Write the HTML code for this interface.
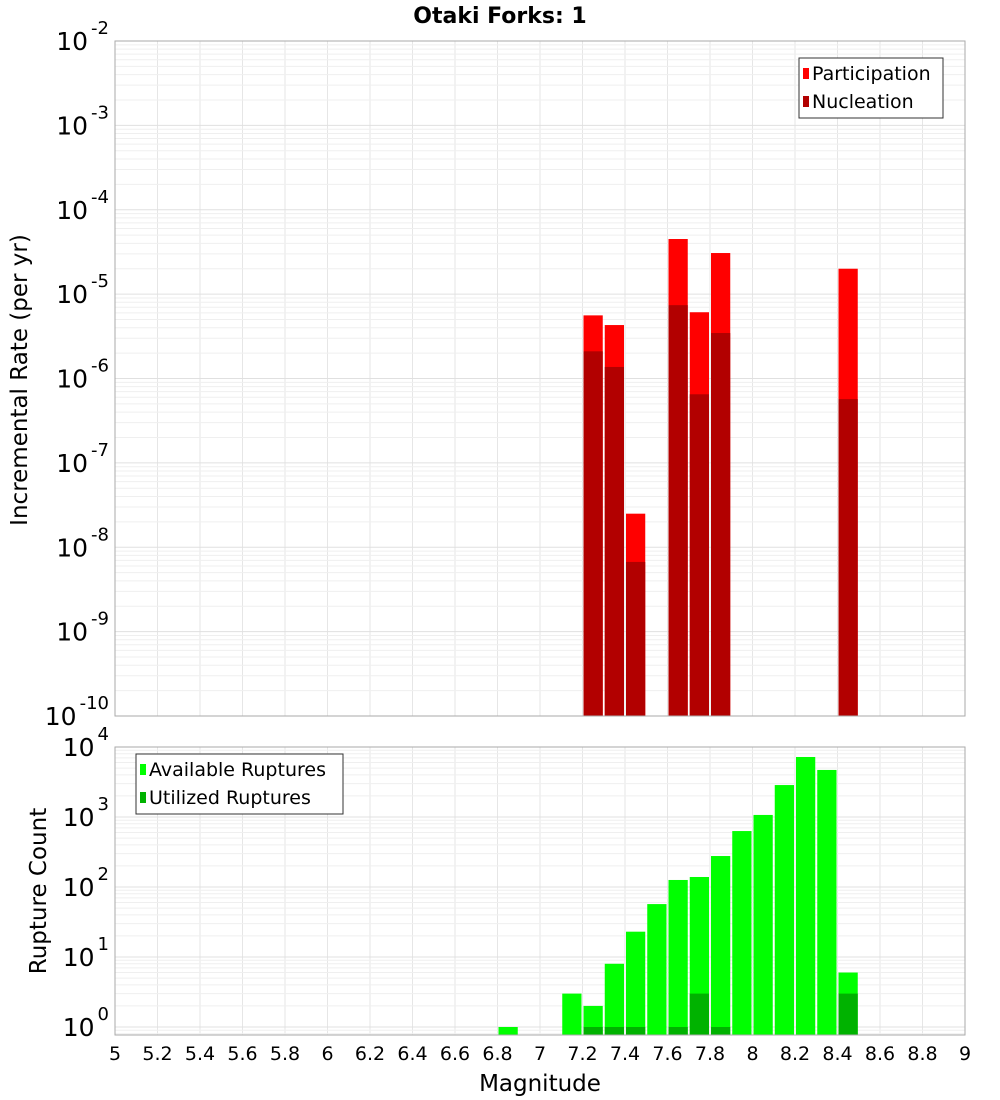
<!DOCTYPE html>
<html><head><meta charset="utf-8"><style>
body{margin:0;background:#fff;font-family:"DejaVu Sans","Liberation Sans",sans-serif}
svg{display:block}
</style></head><body>
<svg id="c" width="1000" height="1100" xmlns="http://www.w3.org/2000/svg"></svg>
<script>
const topMags=[7.25,7.35,7.45,7.65,7.75,7.85,8.45];
const participation=[5.6e-6,4.3e-6,2.5e-8,4.5e-5,6.1e-6,3.07e-5,2.0e-5];
const nucleation=[2.1e-6,1.37e-6,6.7e-9,7.4e-6,6.5e-7,3.46e-6,5.7e-7];
const botMags=[6.85,7.15,7.25,7.35,7.45,7.55,7.65,7.75,7.85,7.95,8.05,8.15,8.25,8.35,8.45];
const available=[1,3,2,8,23,57,126,139,277,630,1070,2860,7200,4700,6];
const utilMags=[7.25,7.35,7.45,7.65,7.75,7.85,8.45];
const utilized=[1,1,1,1,3,1,3];
const xTicks=[5,5.2,5.4,5.6,5.8,6,6.2,6.4,6.6,6.8,7,7.2,7.4,7.6,7.8,8,8.2,8.4,8.6,8.8,9];
const topExps=[-2,-3,-4,-5,-6,-7,-8,-9,-10];
const botExps=[4,3,2,1,0];

const svg=document.getElementById('c');const NS='http://www.w3.org/2000/svg';
function el(t,a,txt){const e=document.createElementNS(NS,t);for(const k in a)e.setAttribute(k,a[k]);if(txt!==undefined)e.textContent=txt;svg.appendChild(e);return e;}
const X0=115,X1=965;
const x=m=>X0+(m-5)/4*(X1-X0);
const T0=41,T1=716;const yT=v=>T0+(-2-Math.log10(v))/8*(T1-T0);
const B0=747,B1=1035;const yB=v=>1027-Math.log10(v)*70;

function grid(top,bot,yf,lo,hi){
  for(let m=5;m<=9.001;m+=0.2){const g=el('line',{x1:x(m),x2:x(m),y1:top,y2:bot,stroke:'#e6e6e6'});}
  for(let e=lo;e<hi;e++)for(let k=1;k<10;k++){const yy=yf(k*Math.pow(10,e));if(yy<top-0.5||yy>bot+0.5)continue;const g=el('line',{x1:X0,x2:X1,y1:yy,y2:yy,stroke:k==1?'#e0e0e0':'#efefef'});}
}
grid(T0,T1,yT,-10,-1);grid(B0,B1,yB,-1,5);

const bw=(X1-X0)/40;
topMags.forEach((m,i)=>{
  let r=el('rect',{x:x(m)-bw/2+1,y:yT(participation[i]),width:bw-2,height:T1-yT(participation[i]),fill:'#ff0000'});
  
  r=el('rect',{x:x(m)-bw/2+1,y:yT(nucleation[i]),width:bw-2,height:T1-yT(nucleation[i]),fill:'#b20000'});
  
});
botMags.forEach((m,i)=>{
  const r=el('rect',{x:x(m)-bw/2+1,y:yB(available[i]),width:bw-2,height:B1-yB(available[i]),fill:'#00ff00'});
  
});
utilMags.forEach((m,i)=>{
  const r=el('rect',{x:x(m)-bw/2+1,y:yB(utilized[i]),width:bw-2,height:B1-yB(utilized[i]),fill:'#00b200'});
  
});
let f=el('rect',{x:X0,y:T0,width:X1-X0,height:T1-T0,fill:'none',stroke:'#aaa'});
f=el('rect',{x:X0,y:B0,width:X1-X0,height:B1-B0,fill:'none',stroke:'#aaa'});

function ylab(yy,e){
  const t=el('text',{x:109,y:yy+9,'text-anchor':'end','font-size':25,fill:'#000'});
  
  const a=document.createElementNS(NS,'tspan');a.textContent='10';t.appendChild(a);
  const b=document.createElementNS(NS,'tspan');b.setAttribute('dy','-16');b.setAttribute('dx','3');b.setAttribute('font-size','18');b.textContent=String(e);t.appendChild(b);
}
topExps.forEach(e=>ylab(yT(Math.pow(10,e)),e));
botExps.forEach(e=>ylab(yB(Math.pow(10,e)),e));
xTicks.forEach(m=>{const t=el('text',{x:x(m),y:1060,'text-anchor':'middle','font-size':19},String(+m.toFixed(1)));});

let t=el('text',{x:500,y:23,'text-anchor':'middle','font-size':22,'font-weight':'bold'},'Otaki Forks: 1');
t=el('text',{x:540,y:1091,'text-anchor':'middle','font-size':23},'Magnitude');
t=el('text',{x:0,y:0,'text-anchor':'middle','font-size':23,transform:'translate(27,380) rotate(-90)'},'Incremental Rate (per yr)');
t=el('text',{x:0,y:0,'text-anchor':'middle','font-size':23,transform:'translate(46,891) rotate(-90)'},'Rupture Count');

function legend(lx,ly,w,items,name){
  const r=el('rect',{x:lx,y:ly,width:w,height:60,fill:'#fff',stroke:'#333'});
  items.forEach((it,i)=>{
    const s=el('rect',{x:lx+4,y:ly+10+i*28,width:6,height:11,fill:it[1]});
    const tt=el('text',{x:lx+13,y:ly+22+i*28,'font-size':19},it[0]);
  });
}
legend(799,58,144,[['Participation','#ff0000'],['Nucleation','#b20000']],'top-legend');
legend(136,754,207,[['Available Ruptures','#00ff00'],['Utilized Ruptures','#00b200']],'bottom-legend');
</script>
</body></html>
